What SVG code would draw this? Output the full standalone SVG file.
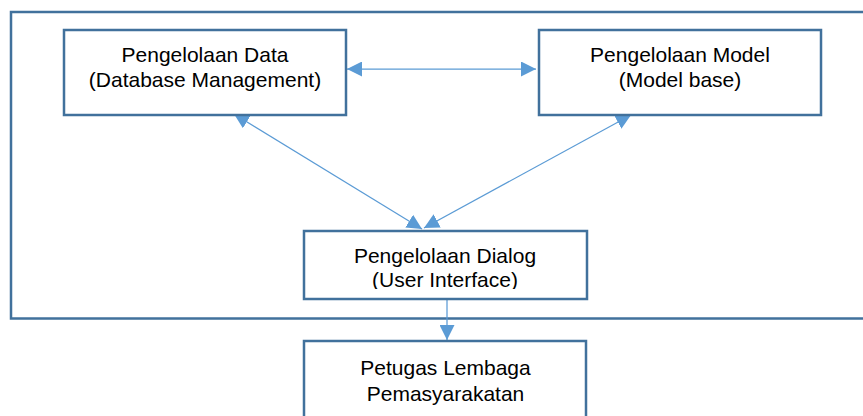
<svg xmlns="http://www.w3.org/2000/svg" width="863" height="416" viewBox="0 0 863 416">
<style>
.frame{fill:none;stroke:#41719C;stroke-width:2.5}
.box{fill:#ffffff;stroke:#41719C;stroke-width:2.5}
.conn{fill:none;stroke:#5B9BD5;stroke-width:1.25}
text{font-family:"Liberation Sans",Arial,sans-serif;font-size:21px;fill:#000000;text-anchor:middle}
</style>
<defs>
<marker id="arr" viewBox="0 0 15 15" refX="15" refY="7.5" markerWidth="15" markerHeight="15" markerUnits="userSpaceOnUse" orient="auto-start-reverse">
<path d="M0,0 L15,7.5 L0,15 Z" fill="#5B9BD5"/>
</marker>
<clipPath id="clipDialog"><rect x="300" y="228" width="292" height="61"/></clipPath>
</defs>
<rect id="frame" class="frame" x="11" y="12" width="900" height="306.5"/>
<g id="connectors">
<line class="conn" x1="347" y1="69" x2="536" y2="69" marker-start="url(#arr)" marker-end="url(#arr)"/>
<line class="conn" x1="234" y1="114" x2="422" y2="229" marker-start="url(#arr)" marker-end="url(#arr)"/>
<line class="conn" x1="631" y1="115" x2="424" y2="228" marker-start="url(#arr)" marker-end="url(#arr)"/>
<line class="conn" x1="447" y1="300" x2="447" y2="340" marker-end="url(#arr)"/>
</g>
<g id="node-data">
<rect class="box" x="64" y="30" width="282" height="85"/>
<text x="205" y="62">Pengelolaan Data</text>
<text x="205" y="87">(Database Management)</text>
</g>
<g id="node-model">
<rect class="box" x="539" y="30" width="282" height="85"/>
<text x="680" y="62">Pengelolaan Model</text>
<text x="680" y="87">(Model base)</text>
</g>
<g id="node-dialog">
<rect class="box" x="304" y="231" width="283" height="68"/>
<g clip-path="url(#clipDialog)">
<text x="445" y="263">Pengelolaan Dialog</text>
<text x="445" y="287">(User Interface)</text>
</g>
</g>
<g id="node-petugas">
<rect class="box" x="304" y="341" width="282" height="100"/>
<text x="445.5" y="375">Petugas Lembaga</text>
<text x="445.5" y="401">Pemasyarakatan</text>
</g>
</svg>
